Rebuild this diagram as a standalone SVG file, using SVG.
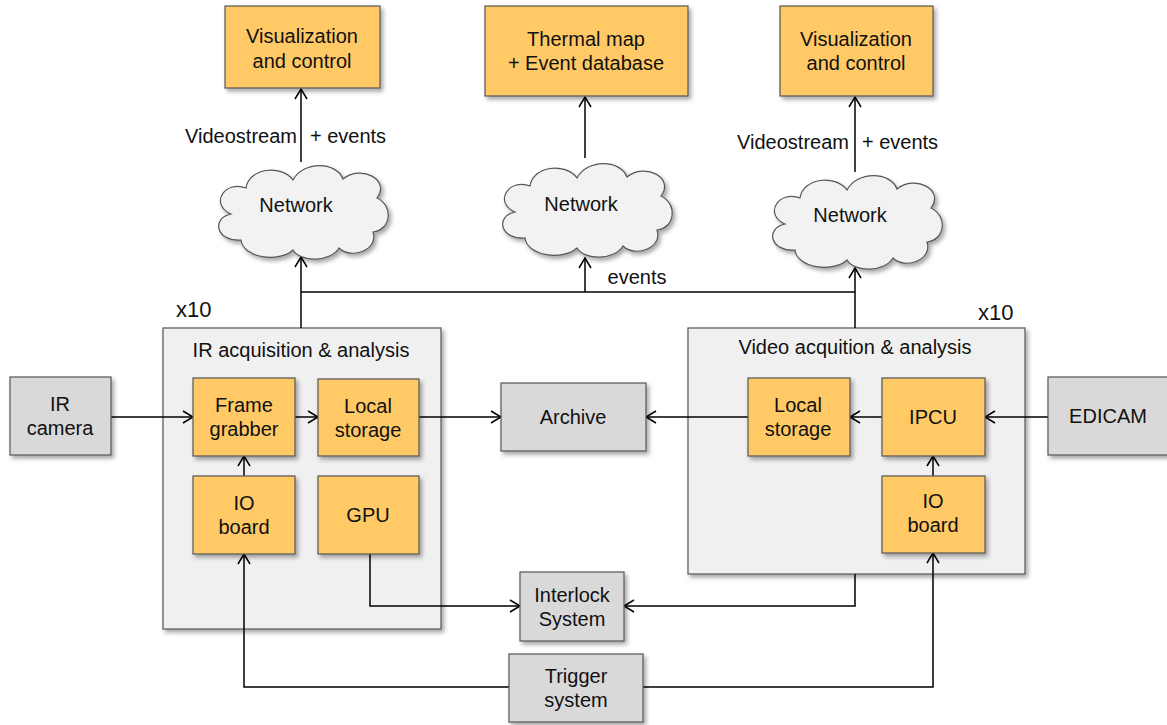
<svg xmlns="http://www.w3.org/2000/svg" width="1167" height="725" viewBox="0 0 1167 725">
<defs>
<filter id="sh" x="-10%" y="-10%" width="130%" height="130%">
<feDropShadow dx="2.5" dy="3" stdDeviation="2" flood-color="#000" flood-opacity="0.35"/>
</filter>
<marker id="arr" markerUnits="userSpaceOnUse" markerWidth="14" markerHeight="14" refX="11" refY="7" orient="auto">
<path d="M1,1 L11,7 L1,13" fill="none" stroke="#000" stroke-width="1.5"/>
</marker>
<path id="cloud" d="M-60,30 C-85,32 -90,8 -70,4 C-92,-6 -76,-30 -55,-22 C-52,-42 -20,-46 -8,-30 C2,-49 35,-49 42,-31 C60,-46 90,-30 76,-12 C93,-4 90,20 72,22 C78,40 50,50 38,38 C30,52 0,53 -8,40 C-22,53 -58,48 -60,30 Z"/>
</defs>
<style>
text{font-family:"Liberation Sans",Arial,sans-serif;font-size:20px;fill:#111;text-anchor:middle}
.o{fill:#FFC966;stroke:#555;stroke-width:1.2;filter:url(#sh)}
.g{fill:#D9D9D9;stroke:#555;stroke-width:1.2;filter:url(#sh)}
.c{fill:#F0F0F0;stroke:#555;stroke-width:1.2;filter:url(#sh)}
.cl{fill:#F2F2F2;stroke:#555;stroke-width:1.2;filter:url(#sh)}
.ln{fill:none;stroke:#000;stroke-width:1.5}
.a{marker-end:url(#arr)}
.l{text-anchor:start;font-size:22px}
</style>

<g id="ir-container"><rect class="c" x="163" y="328" width="278" height="301"/><text x="301" y="357">IR acquisition &amp; analysis</text><text class="l" x="176" y="317">x10</text></g>
<g id="video-container"><rect class="c" x="688" y="328" width="337" height="246"/><text x="855" y="354">Video acquition &amp; analysis</text><text class="l" x="978" y="320">x10</text></g>

<g id="connectors">
<path class="ln a" d="M301,162 V89"/>
<path class="ln a" d="M585,158 V97"/>
<path class="ln a" d="M855,172 V97"/>
<path class="ln" d="M301,292 H855"/>
<path class="ln a" d="M301,328 V257"/>
<path class="ln a" d="M585,292 V258"/>
<path class="ln a" d="M855,328 V268"/>
<path class="ln a" d="M111,417 H193"/>
<path class="ln a" d="M295,417 H318"/>
<path class="ln a" d="M419,417 H501"/>
<path class="ln a" d="M748,417 H646"/>
<path class="ln a" d="M882,417 H850"/>
<path class="ln a" d="M1048,417 H985"/>
<path class="ln a" d="M244,476 V456"/>
<path class="ln a" d="M933,476 V456"/>
<path class="ln a" d="M370,554 V606 H520"/>
<path class="ln a" d="M855,574 V606 H624"/>
<path class="ln a" d="M509,687 H244 V554"/>
<path class="ln a" d="M643,687 H933 V553"/>
</g>

<g id="labels">
<text x="241" y="143">Videostream</text><text x="348" y="143">+ events</text>
<text x="793" y="149">Videostream</text><text x="900" y="149">+ events</text>
<text x="637" y="284">events</text>
</g>

<g id="vis-left"><rect class="o" x="225" y="6" width="155" height="82"/><text x="302" y="43">Visualization</text><text x="302" y="68">and control</text></g>
<g id="thermal"><rect class="o" x="485" y="6" width="203" height="90"/><text x="586" y="46">Thermal map</text><text x="586" y="70">+ Event database</text></g>
<g id="vis-right"><rect class="o" x="780" y="6" width="153" height="90"/><text x="856" y="46">Visualization</text><text x="856" y="70">and control</text></g>

<g id="net-left"><use href="#cloud" class="cl" transform="translate(301,210)"/><text x="296" y="212">Network</text></g>
<g id="net-mid"><use href="#cloud" class="cl" transform="translate(585,208)"/><text x="581" y="211">Network</text></g>
<g id="net-right"><use href="#cloud" class="cl" transform="translate(855,220)"/><text x="850" y="222">Network</text></g>

<g id="frame-grabber"><rect class="o" x="193" y="378" width="102" height="78"/><text x="244" y="412">Frame</text><text x="244" y="436">grabber</text></g>
<g id="ir-local"><rect class="o" x="318" y="379" width="101" height="77"/><text x="368" y="413">Local</text><text x="368" y="437">storage</text></g>
<g id="ir-io"><rect class="o" x="193" y="476" width="102" height="78"/><text x="244" y="510">IO</text><text x="244" y="534">board</text></g>
<g id="gpu"><rect class="o" x="318" y="476" width="101" height="78"/><text x="368" y="522">GPU</text></g>

<g id="vid-local"><rect class="o" x="748" y="378" width="102" height="78"/><text x="798" y="412">Local</text><text x="798" y="436">storage</text></g>
<g id="ipcu"><rect class="o" x="882" y="378" width="103" height="78"/><text x="933" y="424">IPCU</text></g>
<g id="vid-io"><rect class="o" x="882" y="476" width="103" height="77"/><text x="933" y="508">IO</text><text x="933" y="532">board</text></g>

<g id="ir-camera"><rect class="g" x="10" y="377" width="101" height="78"/><text x="60" y="411">IR</text><text x="60" y="435">camera</text></g>
<g id="archive"><rect class="g" x="501" y="383" width="145" height="68"/><text x="573" y="424">Archive</text></g>
<g id="edicam"><rect class="g" x="1048" y="377" width="125" height="78"/><text x="1108" y="423">EDICAM</text></g>
<g id="interlock"><rect class="g" x="520" y="572" width="104" height="69"/><text x="572" y="602">Interlock</text><text x="572" y="626">System</text></g>
<g id="trigger"><rect class="g" x="509" y="654" width="134" height="68"/><text x="576" y="683">Trigger</text><text x="576" y="707">system</text></g>
</svg>
